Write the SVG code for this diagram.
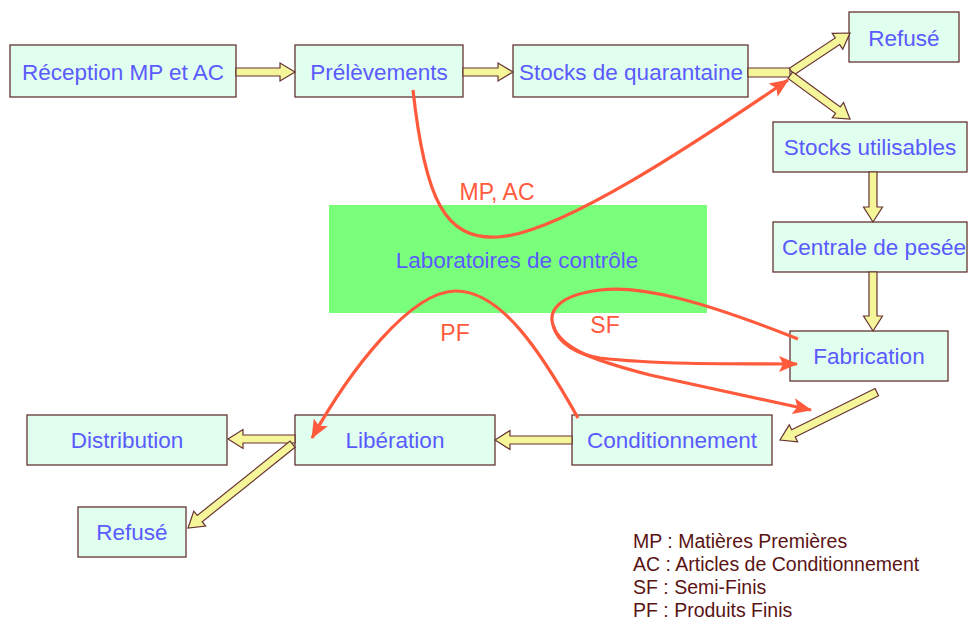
<svg xmlns="http://www.w3.org/2000/svg" width="968" height="622" viewBox="0 0 968 622">
<defs>
<style>
.box{fill:#E0FFEE;stroke:#663333;stroke-width:1.3}
.t{font-family:"Liberation Sans",Arial,sans-serif;font-size:22.5px;fill:#5A5AFF;text-anchor:middle}
.ya{fill:#F5F59A;stroke:#663333;stroke-width:1.2;stroke-linejoin:miter}
.rc{fill:none;stroke:#FF5A3C;stroke-width:3.2}
.rl{font-family:"Liberation Sans",Arial,sans-serif;font-size:23px;fill:#FF5A3C;text-anchor:middle}
.lg{font-family:"Liberation Sans",Arial,sans-serif;font-size:19.5px;fill:#5A1414}
</style>
<marker id="ra" markerUnits="userSpaceOnUse" markerWidth="22" markerHeight="18" refX="18" refY="8" orient="auto">
<path d="M0,0 L19,8 L0,16 L4,8 Z" fill="#FF5A3C"/>
</marker>
</defs>
<rect width="968" height="622" fill="#FFFFFF"/>

<g id="lab">
<rect x="329" y="205" width="378" height="108" fill="#7AFF7A"/>
<text class="t" x="517" y="268">Laboratoires de contrôle</text>
</g>

<g id="n-reception"><rect class="box" x="10" y="45" width="226" height="52"/><text class="t" x="123" y="80">Réception MP et AC</text></g>
<g id="n-prelevements"><rect class="box" x="295" y="45" width="168" height="52"/><text class="t" x="379" y="80">Prélèvements</text></g>
<g id="n-quarantaine"><rect class="box" x="513" y="45" width="235" height="52"/><text class="t" x="631" y="80">Stocks de quarantaine</text></g>
<g id="n-refuse1"><rect class="box" x="849" y="12" width="110" height="50"/><text class="t" x="904" y="46">Refusé</text></g>
<g id="n-utilisables"><rect class="box" x="773" y="122" width="194" height="50"/><text class="t" x="870" y="155">Stocks utilisables</text></g>
<g id="n-centrale"><rect class="box" x="773" y="222" width="194" height="50"/><text class="t" x="874" y="255">Centrale de pesée</text></g>
<g id="n-fabrication"><rect class="box" x="790" y="331" width="158" height="50"/><text class="t" x="869" y="364">Fabrication</text></g>
<g id="n-conditionnement"><rect class="box" x="572" y="415" width="200" height="50"/><text class="t" x="672" y="448">Conditionnement</text></g>
<g id="n-liberation"><rect class="box" x="295" y="415" width="200" height="50"/><text class="t" x="395" y="448">Libération</text></g>
<g id="n-distribution"><rect class="box" x="27" y="415" width="200" height="50"/><text class="t" x="127" y="448">Distribution</text></g>
<g id="n-refuse2"><rect class="box" x="78" y="507" width="108" height="50"/><text class="t" x="132" y="540">Refusé</text></g>

<g id="connectors">
<polygon class="ya" points="236,68 280,68 280,63 295,72 280,81 280,76 236,76"/>
<polygon class="ya" points="463,68 498,68 498,63 513,72 498,81 498,76 463,76"/>
<polygon class="ya" points="748,68 790,68 790,77 748,77"/>
<polygon class="ya" transform="translate(850,33) rotate(-33.5)" points="-70,-4 -15,-4 -15,-9.5 0,0 -15,9.5 -15,4 -70,4"/>
<polygon class="ya" transform="translate(850,119) rotate(36.3)" points="-74,-4 -15,-4 -15,-9.5 0,0 -15,9.5 -15,4 -74,4"/>
<polygon class="ya" transform="translate(873,222) rotate(90)" points="-50,-4 -15,-4 -15,-9.5 0,0 -15,9.5 -15,4 -50,4"/>
<polygon class="ya" transform="translate(873,331) rotate(90)" points="-59,-4 -15,-4 -15,-9.5 0,0 -15,9.5 -15,4 -59,4"/>
<polygon class="ya" transform="translate(780,440) rotate(153.7)" points="-108,-4 -15,-4 -15,-9.5 0,0 -15,9.5 -15,4 -108,4"/>
<polygon class="ya" transform="translate(495,440) rotate(180)" points="-77,-4 -15,-4 -15,-9.5 0,0 -15,9.5 -15,4 -77,4"/>
<polygon class="ya" transform="translate(228,439) rotate(180)" points="-67,-4 -15,-4 -15,-9.5 0,0 -15,9.5 -15,4 -67,4"/>
<polygon class="ya" transform="translate(188,528) rotate(141.3)" points="-134,-4 -15,-4 -15,-9.5 0,0 -15,9.5 -15,4 -134,4"/>

<path class="rc" marker-end="url(#ra)" d="M413,90 C425,200 445,240 498,237 C560,234 700,140 788,80"/>
<path class="rc" marker-end="url(#ra)" d="M578,418 C540,350 500,290 455,291 C410,292 350,370 312,438"/>
<path class="rc" d="M798,339 C700,300 640,285 600,290 C560,295 548,310 553,325"/>
<path class="rc" marker-end="url(#ra)" d="M553,325 C558,345 580,355 600,358 C650,364 720,364 797,364"/>
<path class="rc" marker-end="url(#ra)" d="M553,325 C560,350 600,362 650,375 L811,410"/>
<text class="rl" x="497" y="200">MP, AC</text>
<text class="rl" x="455" y="341">PF</text>
<text class="rl" x="605" y="333">SF</text>
</g>

<g id="legend">
<text class="lg" x="633" y="548">MP : Matières Premières</text>
<text class="lg" x="633" y="571">AC : Articles de Conditionnement</text>
<text class="lg" x="633" y="594">SF : Semi-Finis</text>
<text class="lg" x="633" y="617">PF : Produits Finis</text>
</g>
</svg>
